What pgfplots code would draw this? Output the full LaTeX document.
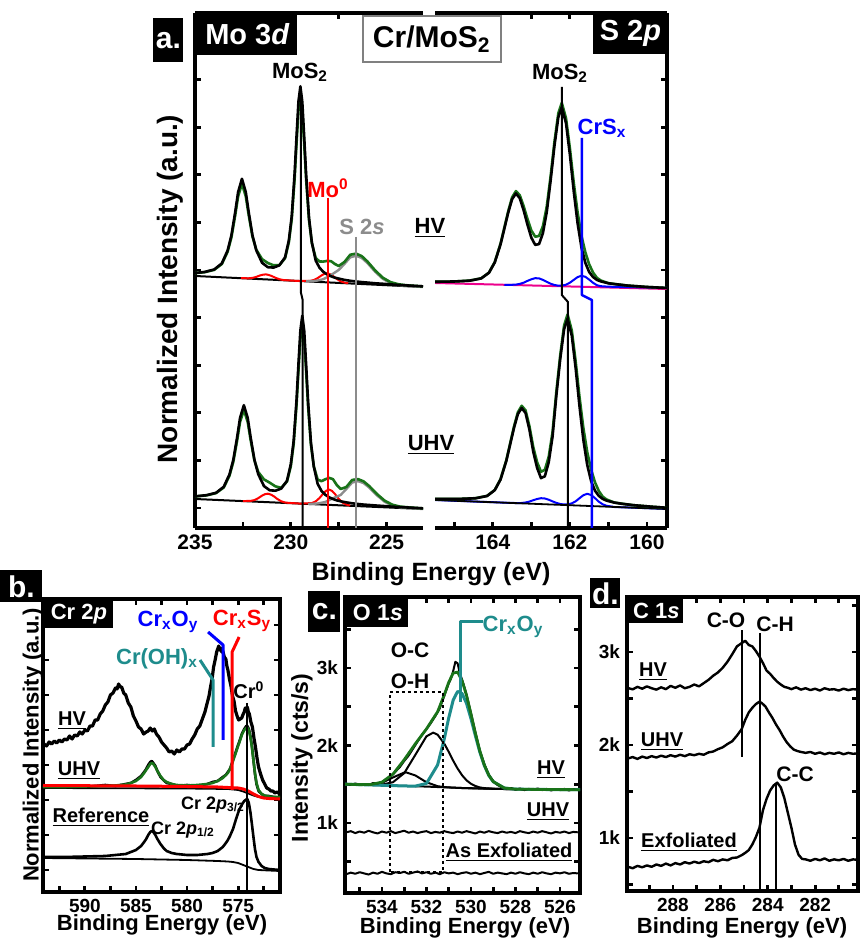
\documentclass[border=0pt]{standalone}
\usepackage{pgfplots}
\pgfplotsset{compat=1.18}
\usepackage{fontspec}
\setmainfont{Liberation Sans}
\definecolor{fitgreen}{RGB}{25,115,25}
\definecolor{tealc}{RGB}{30,140,140}
\definecolor{sgray}{RGB}{140,140,140}
\newcommand{\F}[1]{\fontsize{#1}{#1}\selectfont\bfseries}

\pgfplotsset{
  xpspanel/.style={
    scale only axis, anchor=south west,
    axis line style={line width=2pt},
    tick style={black, line width=1.4pt},
    major tick length=3pt, minor tick length=3pt,
    tick label style={font=\F{9.5}},
    /pgf/number format/assume math mode=true,
    /pgf/number format/1000 sep={},
    scaled ticks=false,
    every axis plot/.append style={line join=round},
  },
}

\begin{document}
\begin{tikzpicture}[x=0.5pt,y=0.5pt]
\useasboundingbox (0,0) rectangle (861,945);

% ---------------- a. Mo 3d ----------------
\begin{axis}[xpspanel, at={(97.5pt,208.5pt)}, width=114pt, height=257.5pt,
  x dir=reverse, xmin=223.1, xmax=235, ymin=0, ymax=515,
  axis x line*=box, axis y line*=left,
  xtick align=inside, ytick align=inside, xtick pos=both, ytick pos=left,
  xtick={225,230,235}, minor xtick={227.5,232.5},
  ytick={20,67.6,115.2,162.8,210.4,258,305.6,353.2,400.8,448.4}, yticklabels={},
  tick label style={font=\F{10.5}}]
% HV
\addplot[black, line width=1pt] coordinates {(235,252) (223.1,241)};
\addplot[red, line width=1pt] coordinates {(232.6,249.8) (232.2,249.7) (232.0,250.1) (231.8,251.1) (231.6,252.6) (231.45,253.3) (231.3,253.6) (231.15,253.0) (231.0,252.0) (230.8,250.2) (230.6,248.8) (230.4,248.0) (230.2,247.7) (229.6,247.0) (229.0,247.0) (228.8,248.0) (228.6,249.9) (228.4,252.5) (228.25,254.1) (228.1,254.6) (227.95,253.8) (227.8,252.0) (227.6,249.0) (227.4,246.7) (227.2,245.4) (227.0,244.7)};
\addplot[sgray, line width=1.2pt] coordinates {(229.2,246.7) (228.7,247.1) (228.3,248.8) (227.9,253.0) (227.5,258.0) (227.2,264.0) (226.9,270.6) (226.6,272.2) (226.3,270.1) (226.0,264.9) (225.6,256.3) (225.2,249.2) (224.8,244.9) (224.4,242.9) (224.0,242.0) (223.1,241.0)};
\addplot[fitgreen, line width=1.3pt] coordinates {(235.0,254.9) (234.5,255.8) (234.0,258.1) (233.6,263.9) (233.3,276.1) (233.1,290.5) (232.9,312.8) (232.75,331.6) (232.55,344.2) (232.35,331.7) (232.2,313.2) (232.0,291.3) (231.8,278.3) (231.5,268.8) (231.2,265.0) (230.9,262.7) (230.6,262.8) (230.3,269.7) (230.1,285.8) (229.95,308.9) (229.8,349.3) (229.7,384.5) (229.6,417.5) (229.5,432.0) (229.4,417.1) (229.3,383.7) (229.2,348.3) (229.05,307.8) (228.9,284.9) (228.7,269.9) (228.5,266.5) (228.3,266.4) (228.1,267.1) (227.9,266.8) (227.7,264.0) (227.5,262.0) (227.2,266.0) (226.9,273.2) (226.6,274.4) (226.3,271.9) (226.0,266.5) (225.6,257.6) (225.2,250.3) (224.8,245.9) (224.4,243.8) (224.0,242.8) (223.5,242.1) (223.1,241.6)};
\addplot[black, line width=1.3pt] coordinates {(235.0,255.0) (234.5,256.0) (234.0,258.5) (233.6,264.6) (233.3,277.4) (233.1,292.6) (232.9,316.1) (232.75,335.9) (232.55,349.2) (232.35,335.9) (232.2,316.2) (232.0,292.6) (231.8,277.6) (231.5,265.2) (231.2,260.8) (230.9,260.4) (230.6,262.6) (230.3,270.6) (230.1,287.8) (229.95,312.1) (229.8,354.7) (229.7,391.7) (229.6,426.5) (229.5,441.7) (229.4,426.1) (229.3,390.9) (229.2,353.5) (229.05,310.4) (228.9,285.4) (228.7,267.4) (228.5,260.2) (228.3,256.1) (228.1,253.5) (227.9,251.7) (227.7,250.3) (227.5,249.4) (227.2,248.1) (226.9,247.2) (226.6,246.5) (226.3,245.9) (226.0,245.4) (225.6,244.7) (225.2,244.2) (224.8,243.6) (224.4,243.1) (224.0,242.6) (223.5,242.1) (223.1,241.6)};
% UHV
\addplot[black, line width=1pt] coordinates {(235,29) (223.1,19)};
\addplot[red, line width=1pt] coordinates {(232.5,26.9) (232.1,27.1) (231.9,27.9) (231.7,29.8) (231.5,32.4) (231.35,33.8) (231.2,34.3) (231.05,33.5) (230.9,31.9) (230.7,29.0) (230.5,26.7) (230.3,25.5) (230.1,25.1) (229.5,24.4) (228.9,24.9) (228.7,26.6) (228.5,30.0) (228.3,34.6) (228.15,37.3) (228.0,38.4) (227.85,37.1) (227.7,34.1) (227.5,29.2) (227.3,25.4) (227.1,23.4) (226.9,22.4)};
\addplot[sgray, line width=1.2pt] coordinates {(229.1,24.0) (228.6,24.5) (228.2,26.0) (227.8,29.7) (227.4,33.0) (227.1,39.0) (226.8,45.4) (226.5,46.8) (226.2,44.9) (225.9,40.3) (225.5,32.6) (225.1,26.2) (224.7,22.4) (224.3,20.6) (223.9,19.9) (223.0,18.9)};
\addplot[fitgreen, line width=1.3pt] coordinates {(235.1,31.6) (234.9,31.7) (234.4,32.6) (233.9,34.9) (233.5,40.5) (233.2,52.3) (233.0,66.2) (232.8,87.7) (232.65,105.9) (232.45,118.0) (232.25,106.1) (232.1,88.4) (231.9,67.7) (231.7,56.0) (231.4,48.6) (231.1,45.3) (230.8,41.6) (230.5,40.2) (230.2,46.4) (230.0,61.8) (229.85,84.1) (229.7,123.0) (229.6,157.0) (229.5,189.0) (229.4,202.9) (229.3,188.6) (229.2,156.3) (229.1,122.2) (228.95,83.4) (228.8,61.7) (228.6,48.5) (228.4,46.8) (228.2,48.7) (228.0,50.1) (227.8,48.8) (227.6,43.0) (227.4,39.0) (227.1,41.0) (226.8,48.0) (226.5,48.9) (226.2,46.6) (225.9,41.8) (225.5,33.9) (225.1,27.3) (224.7,23.3) (224.3,21.4) (223.9,20.7) (223.4,20.0) (223.0,19.5)};
\addplot[black, line width=1.3pt] coordinates {(235.1,31.7) (234.9,31.8) (234.4,32.8) (233.9,35.2) (233.5,41.2) (233.2,53.6) (233.0,68.2) (232.8,90.9) (232.65,110.0) (232.45,122.8) (232.25,110.1) (232.1,91.1) (231.9,68.3) (231.7,53.8) (231.4,41.9) (231.1,37.7) (230.8,37.3) (230.5,39.4) (230.2,47.2) (230.0,63.7) (229.85,87.2) (229.7,128.2) (229.6,164.0) (229.5,197.6) (229.4,212.3) (229.3,197.2) (229.2,163.3) (229.1,127.2) (228.95,85.6) (228.8,61.5) (228.6,44.2) (228.4,37.1) (228.2,33.2) (228.0,30.7) (227.8,29.0) (227.6,27.6) (227.4,26.7) (227.1,25.6) (226.8,24.7) (226.5,24.0) (226.2,23.4) (225.9,23.0) (225.5,22.4) (225.1,21.9) (224.7,21.3) (224.3,20.9) (223.9,20.5) (223.4,20.0) (223.0,19.5)};
% peak markers
\addplot[black, line width=1pt] coordinates {(229.48,441) (229.48,236) (229.38,228) (229.38,0)};
\addplot[red, line width=1.2pt] coordinates {(228.07,330) (228.07,0)};
\addplot[sgray, line width=1.2pt] coordinates {(226.6,291) (226.6,0)};
\end{axis}

% ---------------- a. S 2p ----------------
\begin{axis}[xpspanel, at={(217.5pt,208.5pt)}, width=116pt, height=257.5pt,
  x dir=reverse, xmin=159.48, xmax=165.5, ymin=0, ymax=515,
  axis x line*=box, axis y line*=right,
  xtick align=inside, ytick align=inside, xtick pos=both, ytick pos=right,
  xtick={160,162,164}, minor xtick={161,163,165},
  ytick={20,67.6,115.2,162.8,210.4,258,305.6,353.2,400.8,448.4}, yticklabels={},
  tick label style={font=\F{10.5}}]
% HV
\addplot[magenta, line width=1pt] coordinates {(165.5,245) (159.48,239)};
\addplot[blue, line width=1pt] coordinates {(163.7,243.2) (163.6,243.1) (163.5,243.2) (163.4,243.4) (163.3,244.1) (163.2,245.3) (163.1,247.1) (163.0,248.7) (162.9,249.8) (162.8,249.6) (162.7,248.1) (162.6,246.1) (162.5,244.3) (162.4,243.0) (162.3,242.3) (162.21,242.35) (162.1,243.3) (162.0,245.3) (161.9,248.1) (161.8,250.9) (161.7,252.2) (161.6,251.2) (161.5,248.4) (161.4,245.2) (161.3,242.8) (161.2,241.8) (161.0,241.3) (160.5,240.9) (160.0,240.5) (159.48,240.0)};
\addplot[fitgreen, line width=1.3pt] coordinates {(165.5,246.2) (165.0,246.5) (164.6,247.4) (164.3,249.7) (164.1,255.4) (163.95,265.9) (163.8,284.3) (163.7,300.5) (163.6,316.8) (163.5,330.6) (163.4,336.9) (163.3,332.7) (163.2,321.8) (163.1,308.9) (163.0,297.5) (162.9,291.3) (162.8,292.0) (162.7,301.8) (162.6,321.5) (162.5,351.8) (162.4,386.3) (162.3,414.7) (162.21,425.1) (162.1,409.6) (162.0,379.7) (161.9,345.3) (161.8,315.5) (161.7,292.3) (161.6,275.8) (161.5,263.7) (161.4,255.5) (161.3,250.2) (161.2,247.5) (161.0,244.8) (160.8,243.8) (160.5,242.4) (160.0,241.0) (159.48,240.0)};
\addplot[black, line width=1.3pt] coordinates {(165.5,246.2) (165.0,246.5) (164.6,247.3) (164.3,249.6) (164.1,255.2) (163.95,265.5) (163.8,283.5) (163.7,299.4) (163.6,315.4) (163.5,328.7) (163.4,334.6) (163.3,329.7) (163.2,317.7) (163.1,303.2) (163.0,290.3) (162.9,283.1) (162.8,283.9) (162.7,294.8) (162.6,316.0) (162.5,347.4) (162.4,382.4) (162.3,410.8) (162.21,420.9) (162.1,404.6) (162.0,373.3) (161.9,336.7) (161.8,304.6) (161.7,280.5) (161.6,265.2) (161.5,256.0) (161.4,251.0) (161.3,248.1) (161.2,246.6) (161.0,244.7) (160.8,243.7) (160.5,242.4) (160.0,241.0) (159.48,240.0)};
% UHV
\addplot[blue, line width=1pt] coordinates {(165.5,28.0) (164.45,26.4) (163.95,25.7) (163.55,25.1) (163.35,24.9) (163.25,25.0) (163.15,25.5) (163.05,26.4) (162.95,27.8) (162.85,29.0) (162.75,29.8) (162.65,29.5) (162.55,28.3) (162.45,26.6) (162.35,25.1) (162.25,24.0) (162.15,23.5) (162.06,23.6) (161.95,24.6) (161.85,26.7) (161.75,29.8) (161.65,32.8) (161.55,34.2) (161.45,33.0) (161.35,29.9) (161.25,26.3) (161.15,23.7) (161.05,22.2) (160.85,21.0) (160.65,20.7) (160.35,20.3) (159.85,19.6) (159.33,18.8)};
\addplot[black, line width=0.9pt] coordinates {(165.5,28) (159.48,19)};
\addplot[fitgreen, line width=1.3pt] coordinates {(165.5,29.1) (165.35,29.1) (164.85,29.1) (164.45,29.8) (164.15,32.1) (163.95,38.0) (163.8,48.8) (163.65,67.8) (163.55,84.7) (163.45,101.5) (163.35,115.7) (163.25,122.2) (163.15,117.6) (163.05,101.8) (162.95,80.8) (162.85,65.7) (162.75,56.3) (162.65,58.1) (162.55,71.1) (162.45,95.9) (162.35,136.8) (162.25,172.9) (162.15,202.6) (162.06,213.6) (161.95,197.4) (161.85,166.4) (161.75,130.8) (161.65,99.9) (161.55,75.9) (161.45,58.5) (161.35,45.8) (161.25,37.0) (161.15,31.4) (161.05,28.5) (160.85,25.5) (160.65,24.3) (160.35,22.8) (159.85,21.2) (159.33,19.8)};
\addplot[black, line width=1.3pt] coordinates {(165.5,29.1) (165.35,29.0) (164.85,29.1) (164.45,29.7) (164.15,32.0) (163.95,37.8) (163.8,48.4) (163.65,67.0) (163.55,83.5) (163.45,100.1) (163.35,113.9) (163.25,120.0) (163.15,114.9) (163.05,98.3) (162.95,76.2) (162.85,60.0) (162.75,49.9) (162.65,51.7) (162.55,65.6) (162.45,91.4) (162.35,132.9) (162.25,169.2) (162.15,198.8) (162.06,209.3) (161.95,192.2) (161.85,159.6) (161.75,121.5) (161.65,88.0) (161.55,63.0) (161.45,47.0) (161.35,37.4) (161.25,32.1) (161.15,29.1) (161.05,27.4) (160.85,25.4) (160.65,24.2) (160.35,22.8) (159.85,21.2) (159.33,19.8)};
% peak markers
\addplot[black, line width=1pt] coordinates {(162.21,441) (162.21,233) (162.05,226) (162.05,0)};
\addplot[blue, line width=1.2pt] coordinates {(161.69,390) (161.69,233) (161.43,228) (161.43,0)};
\end{axis}

% ---------------- b. Cr 2p ----------------
\begin{axis}[xpspanel, at={(21.5pt,26.5pt)}, width=118.5pt, height=146.5pt,
  x dir=reverse, xmin=570.9, xmax=594.1, ymin=0, ymax=293,
  tick align=inside,
  xtick={575,580,585,590}, minor xtick={572.5,577.5,582.5,587.5,592.5},
  ytick={22,57,92,127,162,197,232,267}, yticklabels={}]
% Reference
\addplot[black, line width=0.9pt] coordinates {(594.1,34) (585,33) (580,32) (577,31) (576,30.5) (575.5,30) (575,29) (574.5,27) (574,25) (573.5,23) (573,22) (572,21.5) (570.9,21)};
\addplot[black, line width=1.3pt] coordinates {(594.1,35) (592,35) (590,35.5) (588,36) (587,37) (586,38) (585.5,40) (585,42) (584.5,46) (584.2,50) (584,53) (583.8,57) (583.6,60) (583.45,61) (583.3,60) (583.1,57) (582.9,53) (582.6,48) (582.3,44) (582,41) (581.5,39) (581,38) (580,37) (579,37) (578,38) (577.5,39) (577,41) (576.5,45) (576.2,49) (576,52) (575.8,56) (575.5,63) (575.2,73) (574.9,82) (574.6,88) (574.4,91) (574.2,92.5) (574.1,93) (573.95,89) (573.8,80) (573.65,68) (573.5,55) (573.35,43) (573.2,35) (573,30) (572.7,26) (572.4,24) (572,23) (571.5,22.5) (570.9,22)};
% UHV
\addplot[black, line width=0.9pt] coordinates {(594.1,104) (580,103.5) (576,103) (575,102) (574.5,100.5) (574,98.5) (573.5,96.5) (573,95) (572,94) (570.9,94)};
\addplot[black, line width=1.3pt] coordinates {(594.1,104) (592,106) (590,105) (588,107) (587,106) (586,108) (585.5,109) (585,112) (584.5,116) (584.2,120) (584,123) (583.8,127) (583.6,130) (583.45,131) (583.3,129) (583.1,126) (582.9,121) (582.6,115) (582.3,112) (582,109) (581.5,108) (581,106) (580,107) (579,106) (578,108) (577.5,110) (577,111) (576.5,115) (576.2,117) (576,120) (575.8,123) (575.6,129) (575.4,135) (575.2,141) (575,147) (574.8,153) (574.6,159) (574.4,163) (574.2,166) (574.1,166) (573.95,163) (573.8,156) (573.65,146) (573.5,132) (573.35,118) (573.2,108) (573,101) (572.7,98) (572.4,96) (572,96) (571.5,95) (570.9,94)};
\addplot[fitgreen, line width=1.3pt] coordinates {(594.1,105) (592,105) (590,105.5) (588,106) (587,106.5) (586,107.5) (585.5,109) (585,111) (584.5,115) (584.2,119) (584,122) (583.8,125) (583.6,128) (583.45,129) (583.3,128) (583.1,125) (582.9,121) (582.6,116) (582.3,112) (582,110) (581.5,108) (581,107) (580,106.5) (579,107) (578,108) (577.5,109) (577,111) (576.5,114) (576.2,117) (576,119) (575.8,123) (575.6,128) (575.4,134) (575.2,140) (575,146) (574.8,152) (574.6,158) (574.4,162) (574.2,164) (574.1,164.5) (573.95,162) (573.8,155) (573.65,145) (573.5,132) (573.35,119) (573.2,109) (573,102) (572.7,98) (572.4,96.5) (572,95.5) (571.5,95) (570.9,95)};
\addplot[red, line width=1.5pt] coordinates {(594.1,106.5) (585,106) (580,105.5) (577,105) (576,104.5) (575,104) (574.5,103) (574,101) (573.5,98) (573,95.5) (572.5,94) (572,93.5) (570.9,93)};
% HV
\addplot[black, line width=1.6pt] coordinates {(594.0,148) (593.75,146) (593.5,150) (593.25,148) (593.0,151) (592.75,149) (592.5,152) (592.25,150) (592.0,153) (591.75,152) (591.5,156) (591.25,153) (591.0,157) (590.75,156) (590.5,160) (590.25,158) (590.0,162) (589.75,161) (589.5,166) (589.25,166) (589.0,172) (588.75,172) (588.5,178) (588.25,181) (588.0,187) (587.75,190) (587.5,197) (587.25,199) (587.0,204) (586.85,203) (586.7,208) (586.55,205) (586.4,205) (586.2,199) (586.0,197) (585.75,189) (585.5,185) (585.25,176) (585.0,171) (584.75,165) (584.5,163) (584.25,158) (584.0,160) (583.8,161) (583.6,164) (583.4,161) (583.2,163) (583.0,158) (582.75,155) (582.5,150) (582.25,147) (582.0,144) (581.75,140) (581.5,141) (581.25,138) (581.0,142) (580.75,140) (580.5,143) (580.25,143) (580.0,147) (579.75,148) (579.5,153) (579.25,157) (579.0,163) (578.75,166) (578.5,173) (578.25,180) (578.0,190) (577.85,196) (577.7,205) (577.55,213) (577.4,225) (577.25,232) (577.1,240) (577.0,243) (576.9,246) (576.8,242) (576.7,244) (576.6,240) (576.5,241) (576.35,235) (576.2,233) (576.1,226) (576.0,222) (575.85,213) (575.7,206) (575.55,196) (575.4,191) (575.25,181) (575.1,176) (574.95,172) (574.8,173) (574.65,174) (574.5,178) (574.4,180) (574.3,184) (574.2,182) (574.1,185) (574.0,180) (573.9,178) (573.75,170) (573.6,165) (573.45,154) (573.3,145) (573.15,134) (573.0,125) (572.8,118) (572.6,112) (572.4,108) (572.2,104) (572.0,103) (571.8,101) (571.6,101) (571.4,99) (571.2,100) (570.9,98)};
% peak markers
\addplot[tealc, line width=1.5pt] coordinates {(577.45,145) (577.45,212) (578.73,232)};
\addplot[blue, line width=1.5pt] coordinates {(576.47,152) (576.47,247) (577.94,260)};
\addplot[red, line width=1.5pt] coordinates {(575.59,102) (575.59,240) (574.9,255)};
\addplot[black, line width=1pt] coordinates {(574.12,189) (574.12,0)};
\end{axis}

% ---------------- c. O 1s ----------------
\begin{axis}[xpspanel, at={(172.5pt,26pt)}, width=117.5pt, height=148pt,
  x dir=reverse, xmin=525.1, xmax=535.66, ymin=97, ymax=3916,
  tick align=inside,
  xtick={526,528,530,532,534}, minor xtick={527,529,531,533,535},
  ytick={500,1000,1500,2000,2500,3000,3500}, yticklabels={,1k,,2k,,3k,}]
% As exfoliated
\addplot[black, line width=1pt] coordinates {(535.6,340) (535.4,360) (535.2,345) (535.0,365) (534.8,350) (534.6,335) (534.4,360) (534.2,345) (534.0,370) (533.8,350) (533.6,340) (533.4,365) (533.2,355) (533.0,370) (532.8,345) (532.6,360) (532.4,375) (532.2,350) (532.0,365) (531.8,345) (531.6,360) (531.4,340) (531.2,365) (531.0,350) (530.8,360) (530.6,340) (530.4,355) (530.2,365) (530.0,345) (529.8,360) (529.6,340) (529.4,355) (529.2,370) (529.0,345) (528.8,360) (528.6,350) (528.4,340) (528.2,360) (528.0,345) (527.8,365) (527.6,350) (527.4,340) (527.2,360) (527.0,345) (526.8,365) (526.6,350) (526.4,340) (526.2,360) (526.0,350) (525.8,365) (525.6,345) (525.4,355) (525.2,350)};
% UHV
\addplot[black, line width=1pt] coordinates {(535.6,880) (535.4,895) (535.2,870) (535.0,890) (534.8,875) (534.6,900) (534.4,880) (534.2,865) (534.0,890) (533.8,875) (533.6,895) (533.4,870) (533.2,885) (533.0,900) (532.8,875) (532.6,890) (532.4,870) (532.2,885) (532.0,895) (531.8,870) (531.6,885) (531.4,875) (531.2,895) (531.0,880) (530.8,870) (530.6,890) (530.4,875) (530.2,895) (530.0,880) (529.8,865) (529.6,890) (529.4,875) (529.2,895) (529.0,880) (528.8,870) (528.6,890) (528.4,875) (528.2,885) (528.0,870) (527.8,895) (527.6,880) (527.4,870) (527.2,890) (527.0,875) (526.8,895) (526.6,880) (526.4,865) (526.2,885) (526.0,875) (525.8,890) (525.6,870) (525.4,885) (525.2,880)};
% HV
\addplot[black, line width=1pt] coordinates {(535.66,1501) (532,1470) (530,1447) (528,1436) (525.1,1430)};
\addplot[black, line width=1pt] coordinates {(535.66,1501) (535.0,1495) (534.5,1496) (534.0,1519) (533.5,1588) (533.0,1651) (532.9,1652) (532.5,1614) (532.0,1526) (531.5,1475) (531.2,1463) (530.5,1452) (528,1436) (525.1,1430)};
\addplot[black, line width=1pt] coordinates {(535.66,1501) (534.5,1492) (534.0,1495) (533.5,1527) (533.0,1643) (532.5,1879) (532.0,2118) (531.7,2166) (531.5,2140) (531.2,2025) (531.0,1918) (530.8,1805) (530.6,1702) (530.4,1616) (530.2,1551) (530.0,1506) (529.8,1477) (529.6,1459) (529.4,1450) (529.0,1441) (528,1436) (525.1,1430)};
\addplot[tealc, line width=1.5pt] coordinates {(535.66,1501) (533,1478) (532.5,1476) (532.0,1510) (531.5,1748) (531.2,2085) (531.0,2355) (530.8,2584) (530.6,2698) (530.4,2671) (530.2,2544) (530.0,2347) (529.8,2124) (529.6,1913) (529.4,1741) (529.2,1615) (529.0,1533) (528.5,1451) (528.0,1437) (527,1433) (526,1431) (525.1,1430)};
\addplot[black, line width=1pt] coordinates {(535.6,1505) (535.4,1490) (535.2,1510) (535.0,1495) (534.8,1500) (534.6,1490) (534.4,1515) (534.2,1510) (534.0,1530) (533.8,1560) (533.6,1600) (533.4,1660) (533.2,1720) (533.0,1800) (532.8,1870) (532.6,1960) (532.4,2050) (532.2,2140) (532.0,2210) (531.8,2290) (531.6,2380) (531.4,2480) (531.2,2640) (531.0,2800) (530.9,2860) (530.8,2960) (530.7,3080) (530.6,3060) (530.5,2930) (530.4,2850) (530.3,2760) (530.2,2660) (530.1,2540) (530.0,2420) (529.8,2170) (529.6,1930) (529.4,1760) (529.2,1620) (529.0,1540) (528.8,1490) (528.6,1460) (528.4,1445) (528.2,1450) (528.0,1430) (527.8,1445) (527.6,1425) (527.4,1440) (527.2,1430) (527.0,1445) (526.8,1425) (526.6,1440) (526.4,1420) (526.2,1435) (526.0,1425) (525.8,1440) (525.6,1420) (525.4,1435) (525.2,1425)};
\addplot[fitgreen, line width=1.4pt] coordinates {(535.66,1501) (535.0,1495) (534.5,1497) (534.0,1527) (533.5,1632) (533.0,1816) (532.5,2022) (532.0,2214) (531.5,2435) (531.2,2653) (531.0,2815) (530.8,2934) (530.6,2947) (530.4,2836) (530.2,2646) (530.0,2406) (529.8,2156) (529.6,1929) (529.4,1749) (529.2,1618) (529.0,1534) (528.5,1451) (528.0,1437) (527.0,1433) (526.0,1431) (525.1,1430)};
% markers
\addplot[black, line width=1.3pt, dash pattern=on 1.4pt off 1.6pt] coordinates {(533.64,368) (533.64,2690) (531.26,2690) (531.26,368) (533.64,368)};
\addplot[tealc, line width=1.5pt] coordinates {(530.49,2561) (530.49,3594) (529.46,3594)};
\end{axis}

% ---------------- d. C 1s ----------------
\begin{axis}[xpspanel, at={(313.5pt,27pt)}, width=115.5pt, height=147pt,
  x dir=reverse, xmin=280.19, xmax=289.94, ymin=430, ymax=3591,
  tick align=inside,
  xtick={282,284,286,288}, minor xtick={281,283,285,287,289},
  ytick={500,1000,1500,2000,2500,3000,3500}, yticklabels={,1k,,2k,,3k,}]
\addplot[black, line width=1.2pt] coordinates {(289.9,2612) (289.7,2598) (289.5,2625) (289.3,2605) (289.1,2630) (288.9,2610) (288.7,2595) (288.5,2620) (288.3,2600) (288.1,2635) (287.9,2615) (287.7,2640) (287.5,2610) (287.3,2625) (287.1,2650) (286.9,2630) (286.7,2665) (286.5,2700) (286.3,2745) (286.1,2780) (285.9,2830) (285.7,2895) (285.5,2975) (285.3,3060) (285.1,3095) (284.95,3120) (284.8,3075) (284.65,3060) (284.5,3010) (284.35,2950) (284.2,2880) (284.05,2800) (283.9,2765) (283.75,2720) (283.6,2680) (283.45,2650) (283.3,2625) (283.15,2615) (283.0,2600) (282.8,2620) (282.6,2595) (282.4,2610) (282.2,2590) (282.0,2605) (281.8,2585) (281.6,2610) (281.4,2595) (281.2,2600) (281.0,2585) (280.8,2605) (280.6,2590) (280.4,2600) (280.2,2595)};
\addplot[black, line width=1.2pt] coordinates {(289.9,1855) (289.7,1870) (289.5,1850) (289.3,1875) (289.1,1860) (288.9,1880) (288.7,1865) (288.5,1885) (288.3,1870) (288.1,1890) (287.9,1875) (287.7,1895) (287.5,1880) (287.3,1900) (287.1,1890) (286.9,1905) (286.7,1895) (286.5,1920) (286.3,1930) (286.1,1955) (285.9,1975) (285.7,2010) (285.5,2040) (285.3,2100) (285.1,2170) (284.95,2270) (284.8,2350) (284.65,2400) (284.5,2440) (284.35,2465) (284.25,2450) (284.1,2415) (283.95,2350) (283.8,2290) (283.65,2220) (283.5,2160) (283.35,2090) (283.2,2030) (283.05,1985) (282.9,1950) (282.75,1935) (282.6,1925) (282.4,1915) (282.2,1925) (282.0,1905) (281.8,1920) (281.6,1900) (281.4,1915) (281.2,1905) (281.0,1920) (280.8,1900) (280.6,1915) (280.4,1905) (280.2,1910)};
\addplot[black, line width=1.2pt] coordinates {(289.9,690) (289.7,675) (289.5,700) (289.3,685) (289.1,705) (288.9,690) (288.7,715) (288.5,700) (288.3,725) (288.1,705) (287.9,730) (287.7,715) (287.5,740) (287.3,725) (287.1,745) (286.9,730) (286.7,750) (286.5,740) (286.3,765) (286.1,750) (285.9,770) (285.7,760) (285.5,785) (285.3,790) (285.1,815) (284.95,840) (284.8,870) (284.65,930) (284.5,1010) (284.35,1110) (284.2,1300) (284.05,1420) (283.9,1510) (283.75,1565) (283.6,1595) (283.45,1545) (283.3,1430) (283.15,1270) (283.0,1110) (282.85,930) (282.7,820) (282.55,775) (282.4,770) (282.2,755) (282.0,775) (281.8,760) (281.6,780) (281.4,755) (281.2,770) (281.0,760) (280.8,775) (280.6,755) (280.4,770) (280.2,765)};
\addplot[black, line width=1pt] coordinates {(285.09,1871) (285.09,3237)};
\addplot[black, line width=1pt] coordinates {(284.33,430) (284.33,3204)};
\addplot[black, line width=1pt] coordinates {(283.65,430) (283.65,1591)};
\end{axis}

% ---------------- labels, panel a ----------------
\node[fill=black, text=white, anchor=north west, minimum width=15pt, minimum height=22pt, inner sep=0pt, font=\F{15}] at (153,927) {a.};
\node[fill=black, text=white, anchor=north west, minimum width=50pt, minimum height=21pt, inner sep=0pt, font=\F{14.5}] at (197,932) {Mo 3\textit{d}};
\node[fill=white, draw=gray, line width=0.8pt, anchor=north west, minimum width=69pt, minimum height=23pt, inner sep=0pt, font=\F{15}] at (362,930) {Cr/MoS\textsubscript{2}};
\node[fill=black, text=white, anchor=north west, minimum width=37pt, minimum height=20.5pt, inner sep=0pt, font=\F{14.5}] at (593,932) {S 2\textit{p}};
\node[font=\F{14}, rotate=90] at (170,656) {Normalized Intensity (a.u.)};
\node[font=\F{12.5}] at (431,371) {Binding Energy (eV)};
\node[font=\F{11}] at (300,873) {MoS\textsubscript{2}};
\node[font=\F{11}, red] at (328,757) {Mo\textsuperscript{0}};
\node[font=\F{11}, sgray] at (362,718) {S 2\textit{s}};
\node[font=\F{11}] at (430,717) {\underline{HV}};
\node[font=\F{11}] at (431,500) {\underline{UHV}};
\node[font=\F{11}] at (560,872) {MoS\textsubscript{2}};
\node[font=\F{11}, blue] at (602,817) {CrS\textsubscript{x}};

% ---------------- labels, panel b ----------------
\node[fill=black, text=white, anchor=north west, minimum width=21pt, minimum height=16pt, inner sep=0pt, font=\F{15}] at (0,375) {b.};
\node[fill=black, text=white, anchor=north west, minimum width=34.5pt, minimum height=14.5pt, inner sep=0pt, font=\F{11}] at (44,346) {Cr 2\textit{p}};
\node[font=\F{11}, rotate=90] at (33,200) {Normalized Intensity (a.u.)};
\node[font=\F{11}] at (162,20) {Binding Energy (eV)};
\node[font=\F{10}] at (72,224) {\underline{HV}};
\node[font=\F{10}] at (79,174) {\underline{UHV}};
\node[font=\F{10}] at (101,128) {\underline{Reference}};
\node[font=\F{9}] at (213,140) {Cr 2\textit{p}\textsubscript{3/2}};
\node[font=\F{9}] at (183,115) {Cr 2\textit{p}\textsubscript{1/2}};
\node[font=\F{11}, blue] at (168,323) {Cr\textsubscript{x}O\textsubscript{y}};
\node[font=\F{11}, red] at (242,324) {Cr\textsubscript{x}S\textsubscript{y}};
\node[font=\F{11}, tealc] at (157,286) {Cr(OH)\textsubscript{x}};
\node[font=\F{10}] at (249,255) {Cr\textsuperscript{0}};

% ---------------- labels, panel c ----------------
\node[fill=black, text=white, anchor=north west, minimum width=16pt, minimum height=20.5pt, inner sep=0pt, font=\F{15}] at (308,354) {c.};
\node[fill=black, text=white, anchor=north west, minimum width=30.5pt, minimum height=14.5pt, inner sep=0pt, font=\F{11.5}] at (347,347) {O 1\textit{s}};
\node[font=\F{11.5}, rotate=90] at (302,187) {Intensity (cts/s)};
\node[font=\F{11}] at (465,17) {Binding Energy (eV)};
\node[font=\F{10.5}] at (410,295) {O-C};
\node[font=\F{10.5}] at (410,264) {O-H};
\node[font=\F{11}, tealc] at (513,318) {Cr\textsubscript{x}O\textsubscript{y}};
\node[font=\F{10}] at (551,175) {\underline{HV}};
\node[font=\F{10}] at (548,133) {\underline{UHV}};
\node[font=\F{10}] at (509,93) {\underline{As Exfoliated}};

% ---------------- labels, panel d ----------------
\node[fill=black, text=white, anchor=north west, minimum width=15pt, minimum height=15pt, inner sep=0pt, font=\F{15}] at (590,367) {d.};
\node[fill=black, text=white, anchor=north west, minimum width=27pt, minimum height=12.5pt, inner sep=0pt, font=\F{11}] at (629,347) {C 1\textit{s}};
\node[font=\F{11}] at (742,17) {Binding Energy (eV)};
\node[font=\F{10.5}] at (726,325) {C-O};
\node[font=\F{10.5}] at (775,321) {C-H};
\node[font=\F{10.5}] at (795,171) {C-C};
\node[font=\F{10}] at (653,273) {\underline{HV}};
\node[font=\F{10}] at (662,203) {\underline{UHV}};
\node[font=\F{10}] at (689,103) {\underline{Exfoliated}};
\end{tikzpicture}
\end{document}
